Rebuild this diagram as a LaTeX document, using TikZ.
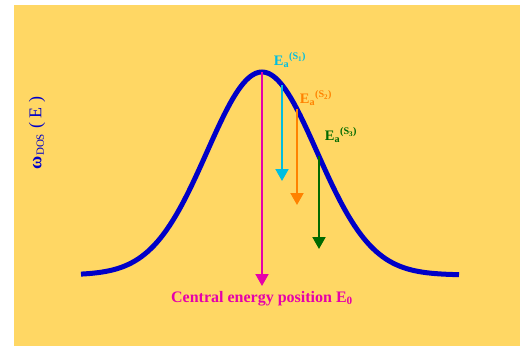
\documentclass[tikz,border=0pt]{standalone}
\usepackage{fontspec}
\setmainfont{Liberation Serif}
\definecolor{dosBg}{RGB}{255, 215, 100}
\definecolor{dosBlue}{RGB}{0, 0, 200}
\definecolor{dosMagenta}{RGB}{230, 0, 170}
\definecolor{dosCyan}{RGB}{0, 190, 225}
\definecolor{dosOrange}{RGB}{255, 130, 0}
\definecolor{dosGreen}{RGB}{0, 105, 0}
\usetikzlibrary{arrows.meta}
\tikzset{
  dosarrow/.style={-{Triangle[length=12pt, width=13pt]}, line width=2pt, #1},
  dosarrow/.default=dosMagenta,
  eslabel/.style={font=\fontsize{14.5}{16}\selectfont\bfseries, text=#1, inner sep=1pt},
}

\begin{document}
\begin{tikzpicture}[x=1pt, y=-1pt]
  \useasboundingbox (0,0) rectangle (520,346);
  % Background
  \fill[dosBg] (14,5) rectangle (520,346);

  % Density of states curve
  \draw[dosBlue, line width=5pt, samples=120, domain=81:459]
    plot (\x, {275-203*exp(-((\x-262)/55)^2/2)});

  % Points on the curve and arrow ends
  \coordinate (peak) at (262,72);
  \coordinate (e0) at (262,286);
  \coordinate (s1top) at (282,85);
  \coordinate (s1end) at (282,181);
  \coordinate (s2top) at (297,109);
  \coordinate (s2end) at (297,205);
  \coordinate (s3top) at (319,156);
  \coordinate (s3end) at (319,249);

  % Arrows
  \draw[dosarrow=dosMagenta] (peak) -- (e0);
  \draw[dosarrow=dosCyan] (s1top) -- (s1end);
  \draw[dosarrow=dosOrange] (s2top) -- (s2end);
  \draw[dosarrow=dosGreen] (s3top) -- (s3end);

  % Labels
  \node[eslabel=dosCyan] (es1) at (290,60) {E\textsubscript{a}\textsuperscript{(S\textsubscript{1})}};
  \node[eslabel=dosOrange] (es2) at (316,98) {E\textsubscript{a}\textsuperscript{(S\textsubscript{2})}};
  \node[eslabel=dosGreen] (es3) at (341,135) {E\textsubscript{a}\textsuperscript{(S\textsubscript{3})}};
  \node[eslabel=dosMagenta, font=\fontsize{16}{18}\selectfont\bfseries, anchor=north] (center) at (262,290)
    {Central energy position E\textsubscript{0}};
  \node[text=dosBlue, rotate=90, font=\fontsize{18}{20}\selectfont] (ylab) at (37,133)
    {\textbf{ω}\textsubscript{\fontsize{11}{12}\selectfont DOS} ( E )};
\end{tikzpicture}
\end{document}
